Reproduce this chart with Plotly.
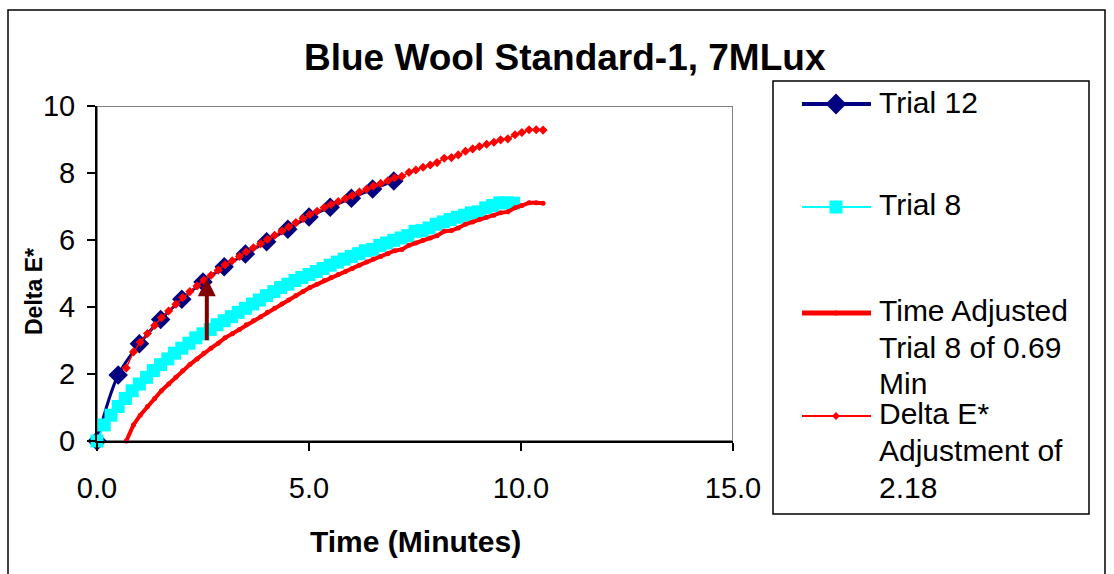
import plotly.graph_objects as go

W, H = 1114, 574

# ---------------- data ----------------
trial12_t = [0.0, 0.5, 1.0, 1.5, 2.0, 2.5, 3.0, 3.5, 4.0, 4.5, 5.0, 5.5, 6.0, 6.5, 7.0]
trial12_de = [0.00, 1.97, 2.90, 3.63, 4.23, 4.75, 5.20, 5.58, 5.95, 6.32, 6.69, 6.98, 7.25, 7.52, 7.76]

trial8_t = [0.00, 0.17, 0.33, 0.50, 0.67, 0.83, 1.00, 1.17, 1.33, 1.50,
            1.67, 1.83, 2.00, 2.17, 2.33, 2.50, 2.67, 2.83, 3.00, 3.17,
            3.33, 3.50, 3.67, 3.83, 4.00, 4.17, 4.33, 4.50, 4.67, 4.83,
            5.00, 5.17, 5.33, 5.50, 5.67, 5.83, 6.00, 6.17, 6.33, 6.50,
            6.67, 6.83, 7.00, 7.17, 7.33, 7.50, 7.67, 7.83, 8.00, 8.17,
            8.33, 8.50, 8.67, 8.83, 9.00, 9.17, 9.33, 9.50, 9.67, 9.83]
trial8_de = [0.00, 0.48, 0.77, 1.03, 1.27, 1.50, 1.70, 1.90, 2.10, 2.28,
             2.45, 2.62, 2.77, 2.92, 3.08, 3.20, 3.33, 3.47, 3.59, 3.71,
             3.84, 3.96, 4.09, 4.21, 4.34, 4.46, 4.58, 4.68, 4.79, 4.88,
             4.97, 5.06, 5.15, 5.25, 5.34, 5.43, 5.51, 5.59, 5.68, 5.72,
             5.84, 5.91, 5.99, 6.06, 6.13, 6.26, 6.28, 6.36, 6.47, 6.54,
             6.61, 6.68, 6.74, 6.81, 6.84, 6.96, 7.03, 7.11, 7.11, 7.10]

time_shift = 0.69   # minutes
de_shift = 2.18     # Delta E* adjustment

adj_t = [t + time_shift for t in trial8_t]
adj_de = list(trial8_de)
adj2_de = [v + de_shift for v in trial8_de]

arrow_t = 2.59
arrow_from = 2.96
arrow_to = 4.86

x_ticks = [0, 5, 10, 15]
y_ticks = [0, 2, 4, 6, 8, 10]

legend_names = ["Trial 12", "Trial 8",
                "Time Adjusted<br>Trial 8 of 0.69<br>Min",
                "Delta E*<br>Adjustment of<br>2.18"]

# ---------------- layout constants (pixels) ----------------
PL, PR, PT, PB = 97, 733, 106, 441
FONT = "Liberation Sans, Arial, sans-serif"
NAVY, CYAN, RED, MAROON = "#000080", "#00FFFF", "#FF0000", "#800000"

fig = go.Figure()

fig.add_trace(go.Scatter(
    x=trial12_t, y=trial12_de, mode="lines+markers", name="Trial 12",
    line=dict(color=NAVY, width=3, shape="spline", smoothing=1.0),
    marker=dict(symbol="diamond", size=15, color=NAVY, opacity=1, line=dict(width=0)),
    cliponaxis=False, showlegend=False))
fig.add_trace(go.Scatter(
    x=trial8_t, y=trial8_de, mode="lines+markers", name="Trial 8",
    line=dict(color=CYAN, width=2),
    marker=dict(symbol="square", size=13, color=CYAN, opacity=1, line=dict(width=0)),
    cliponaxis=False, showlegend=False))
fig.add_trace(go.Scatter(
    x=adj_t, y=adj_de, mode="lines+markers", name="Time Adjusted Trial 8 of 0.69 Min",
    line=dict(color=RED, width=4),
    marker=dict(symbol="circle", size=5, color=RED, opacity=1, line=dict(width=0)),
    cliponaxis=False, showlegend=False))
fig.add_trace(go.Scatter(
    x=adj_t, y=adj2_de, mode="lines+markers", name="Delta E* Adjustment of 2.18",
    line=dict(color=RED, width=1.5),
    marker=dict(symbol="diamond", size=7, color=RED, opacity=1, line=dict(width=0)),
    cliponaxis=False, showlegend=False))

# ---------- manual legend keys (overlay pixel axes) ----------
key_y = [104, 207, 313, 416]
key_styles = [
    (NAVY, 4, "diamond", 16),
    (CYAN, 2, "square", 13),
    (RED, 5, "circle", 5),
    (RED, 2, "diamond", 6),
]
for ky, (col, lw, sym, ms) in zip(key_y, key_styles):
    fig.add_trace(go.Scatter(
        x=[802, 836, 871], y=[ky, ky, ky], xaxis="x2", yaxis="y2",
        mode="lines+markers", line=dict(color=col, width=lw),
        marker=dict(symbol=sym, size=[0, ms, 0], color=col, opacity=1, line=dict(width=0)),
        showlegend=False, hoverinfo="skip", cliponaxis=False))

annotations = []
legend_line_y = [[102], [204], [310, 347, 383], [413, 450, 487]]
for name, ys in zip(legend_names, legend_line_y):
    for line_txt, yy in zip(name.split("<br>"), ys):
        annotations.append(dict(
            x=877, y=yy, xref="x2", yref="y2", text=line_txt, showarrow=False,
            xanchor="left", yanchor="middle", font=dict(family=FONT, size=30, color="black")))

# title and axis titles
annotations.append(dict(x=565, y=57, xref="x2", yref="y2", showarrow=False,
                        text="<b>Blue Wool Standard-1, 7MLux</b>", xanchor="center", yanchor="middle",
                        font=dict(family=FONT, size=37, color="black")))
annotations.append(dict(x=415, y=541, xref="x2", yref="y2", showarrow=False,
                        text="<b>Time (Minutes)</b>", xanchor="center", yanchor="middle",
                        font=dict(family=FONT, size=30, color="black")))
annotations.append(dict(x=34, y=292, xref="x2", yref="y2", showarrow=False, textangle=-90,
                        text="<b>Delta E*</b>", xanchor="center", yanchor="middle",
                        font=dict(family=FONT, size=23, color="black")))

# arrow
annotations.append(dict(x=arrow_t, y=arrow_to, ax=arrow_t, ay=arrow_from,
                        xref="x", yref="y", axref="x", ayref="y", text="",
                        showarrow=True, arrowhead=2, arrowsize=0.9, arrowwidth=4,
                        arrowcolor=MAROON, standoff=0))

shapes = [
    # plot-area border (gray)
    dict(type="rect", xref="x", yref="y", x0=0, x1=15, y0=0, y1=10,
         line=dict(color="#808080", width=2), layer="below"),
    # legend box
    dict(type="rect", xref="x2", yref="y2", x0=773, x1=1089, y0=81, y1=514,
         line=dict(color="black", width=1.5), layer="below"),
    # chart border
    dict(type="rect", xref="x2", yref="y2", x0=8, x1=1105, y0=10, y1=600,
         line=dict(color="black", width=1.5), layer="below"),
]

fig.update_layout(
    width=W, height=H, margin=dict(l=0, r=0, t=0, b=0, pad=0, autoexpand=False),
    paper_bgcolor="white", plot_bgcolor="rgba(0,0,0,0)",
    showlegend=False,
    xaxis=dict(domain=[PL / W, PR / W], range=[0, 15], tickvals=x_ticks,
               ticktext=[f"{v:.1f}" for v in x_ticks], automargin=False,
               showgrid=False, zeroline=False, showline=True, linecolor="black", linewidth=2,
               ticks="outside", ticklen=8, tickwidth=2, tickcolor="black",
               ticklabelstandoff=12,
               tickfont=dict(family=FONT, size=29, color="black"), fixedrange=True),
    yaxis=dict(domain=[(H - PB) / H, (H - PT) / H], range=[0, 10], tickvals=y_ticks,
               ticktext=[str(v) for v in y_ticks], automargin=False,
               showgrid=False, zeroline=False, showline=True, linecolor="black", linewidth=2,
               ticks="outside", ticklen=8, tickwidth=2, tickcolor="black",
               ticklabelstandoff=6,
               tickfont=dict(family=FONT, size=29, color="black"), fixedrange=True),
    xaxis2=dict(domain=[0, 1], range=[0, W], visible=False, anchor="y2",
                automargin=False, fixedrange=True),
    yaxis2=dict(domain=[0, 1], range=[H, 0], visible=False, anchor="x2",
                automargin=False, fixedrange=True),
    annotations=annotations,
    shapes=shapes,
)

fig.write_html("out.html")
